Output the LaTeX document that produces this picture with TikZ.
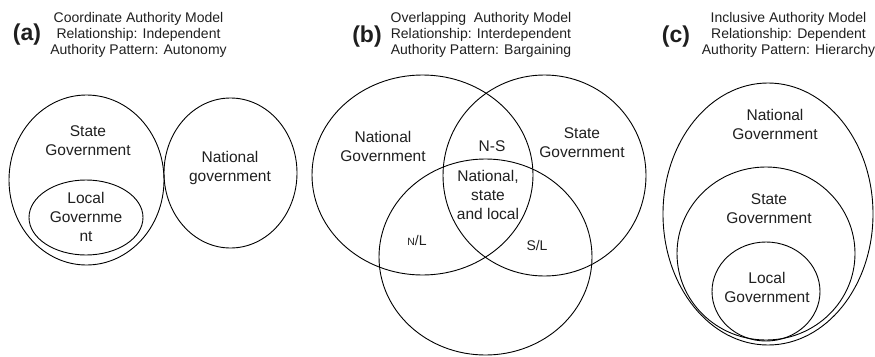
\documentclass[tikz,border=0pt]{standalone}
\usepackage{fontspec}
\setmainfont{Liberation Sans}
\begin{document}
\begin{tikzpicture}[x=1pt,y=-1pt,
  ring/.style={draw=black,line width=0.9pt},
  lbl/.style={inner sep=0pt,align=center,text=black!88,font=\fontsize{15.5}{19}\selectfont},
  ttl/.style={inner sep=0pt,align=center,text=black!88,font=\fontsize{14}{16}\selectfont,anchor=north},
  tag/.style={inner sep=0pt,anchor=base,text=black!88,font=\fontsize{23}{23}\selectfont\bfseries}]
\useasboundingbox (0,0) rectangle (875,356);
% titles
\node[tag] (ta) at (27,40) {(a)};
\node[ttl] (tta) at (138.5,12.5) {Coordinate Authority Model\\Relationship: Independent\\Authority Pattern: Autonomy};
\node[tag] (tb) at (367,42) {(b)};
\node[ttl] (ttb) at (481,12.5) {Overlapping\ \ Authority Model\\Relationship: Interdependent\\Authority Pattern: Bargaining};
\node[tag] (tc) at (676,42) {(c)};
\node[ttl] (ttc) at (788.5,12.5) {Inclusive Authority Model\\Relationship: Dependent\\Authority Pattern: Hierarchy};
% (a)
\draw[ring] (86.5,180) ellipse [x radius=77.5pt, y radius=85pt];
\draw[ring] (86,217.5) ellipse [x radius=57pt, y radius=37.5pt];
\draw[ring] (230.5,173) ellipse [x radius=66.5pt, y radius=75pt];
\node[lbl] (as) at (88,141) {State\\Government};
\node[lbl] (al) at (86,217) {Local\\Governme\\nt};
\node[lbl] (an) at (230,167.5) {National\\government};
% (b)
\draw[ring] (422.5,175) ellipse [x radius=110.5pt, y radius=100pt];
\draw[ring] (544.5,175.5) ellipse [x radius=101.5pt, y radius=100.5pt];
\draw[ring] (485.5,257) ellipse [x radius=106.5pt, y radius=98pt];
\node[lbl] (bn) at (383,146.5) {National\\Government};
\node[lbl] (bs) at (582,142.5) {State\\Government};
\node[lbl] (bns) at (492,146) {N-S};
\node[lbl] (bnsl) at (488,195) {National,\\state\\and local};
\node[lbl,font=\fontsize{14}{16}\selectfont] (bsl) at (537,245) {S/L};
\node[lbl,font=\fontsize{14}{16}\selectfont] (bnl) at (417,240) {{\fontsize{10.5}{12}\selectfont N}/L};
% (c)
\draw[ring] (768,214) ellipse [x radius=105pt, y radius=131pt];
\draw[ring] (766,253.5) ellipse [x radius=89pt, y radius=86.5pt];
\draw[ring] (766,291.5) ellipse [x radius=54pt, y radius=49.5pt];
\node[lbl] (cn) at (775,124.5) {National\\Government};
\node[lbl] (cs) at (769,208.5) {State\\Government};
\node[lbl] (cl) at (767,287.5) {Local\\Government};
\end{tikzpicture}
\end{document}
